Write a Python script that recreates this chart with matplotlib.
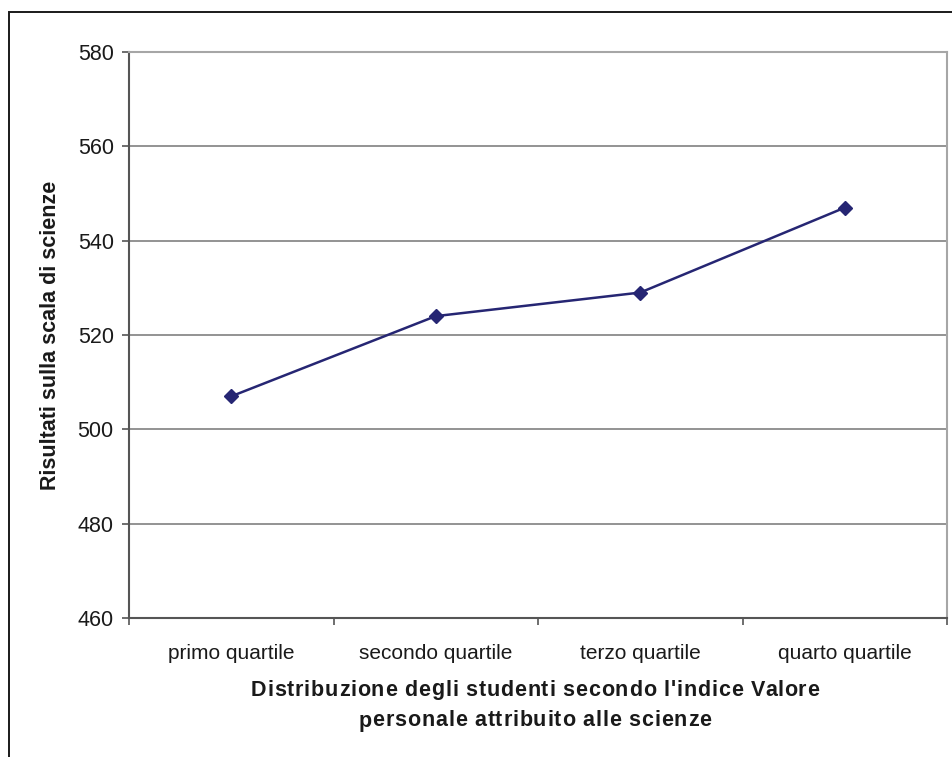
import matplotlib
matplotlib.use("Agg")
import matplotlib.pyplot as plt
from matplotlib.patches import Rectangle
from matplotlib.font_manager import FontProperties

categories = ["primo quartile", "secondo quartile", "terzo quartile", "quarto quartile"]
scores = [507, 524, 529, 547]
y_ticks = [460, 480, 500, 520, 540, 560, 580]
x_title = ["Distribuzione degli studenti secondo l'indice Valore",
           "personale attribuito alle scienze"]
y_title = "Risultati sulla scala di scienze"

plt.rcParams["font.family"] = ["Liberation Sans", "DejaVu Sans"]

W, H = 952, 757
fig = plt.figure(figsize=(W / 100, H / 100), dpi=100)

# outer chart frame (open to the right and bottom)
fig.patches.append(Rectangle((9 / W, -0.05), 1.2, 1 - 12 / H + 0.05,
                             transform=fig.transFigure, fill=False,
                             edgecolor="#1a1a1a", linewidth=1.4, zorder=0))

ax = fig.add_axes([129 / W, 1 - 618 / H, (947 - 129) / W, (618 - 52) / H])

x = list(range(len(categories)))
ax.plot(x, scores, color="#262673", linewidth=1.8, marker="D",
        markersize=7.5, markerfacecolor="#262673", markeredgecolor="#262673",
        zorder=3, clip_on=False)

ax.set_xlim(-0.5, len(categories) - 0.5)
ax.set_ylim(460, 580)
ax.set_yticks(y_ticks)
ax.set_yticklabels([str(v) for v in y_ticks], fontsize=15.5, color="#1a1a1a")
ax.yaxis.grid(True, color="#808080", linewidth=1.2)
ax.set_axisbelow(True)

ax.set_xticks(x)
ax.set_xticklabels(categories, fontsize=15, color="#1a1a1a")
ax.tick_params(axis="x", length=0, pad=19)
ax.set_xticks([i - 0.5 for i in range(len(categories) + 1)], minor=True)
ax.tick_params(axis="x", which="minor", length=5, color="#555555", width=1.2)
ax.tick_params(axis="y", length=5, color="#555555", width=1.2, pad=6)

for side in ["top", "right"]:
    ax.spines[side].set_color("#a6a6a6")
    ax.spines[side].set_linewidth(1.5)
for side in ["left", "bottom"]:
    ax.spines[side].set_color("#555555")
    ax.spines[side].set_linewidth(1.5)

ax.set_ylabel(y_title, fontsize=15.5, fontweight="bold",
              labelpad=12, color="#1a1a1a")

# x-axis title drawn with letter spacing
renderer = fig.canvas.get_renderer()
prop = FontProperties(family=["Liberation Sans", "DejaVu Sans"], weight="bold", size=15.5)
spacing = 0.8  # extra pixels between letters
center_x = 535


def width(s):
    if not s:
        return 0.0
    w, _, _ = renderer.get_text_width_height_descent(s, prop, ismath=False)
    return w


for line, y_px in zip(x_title, [690, 721]):
    total = width(line) + spacing * (len(line) - 1)
    start = center_x - total / 2
    for i, ch in enumerate(line):
        px = start + width(line[:i]) + spacing * i
        fig.text(px / W, 1 - y_px / H, ch, fontproperties=prop,
                 ha="left", va="center", color="#1a1a1a")

fig.savefig("out.png", dpi=100)
